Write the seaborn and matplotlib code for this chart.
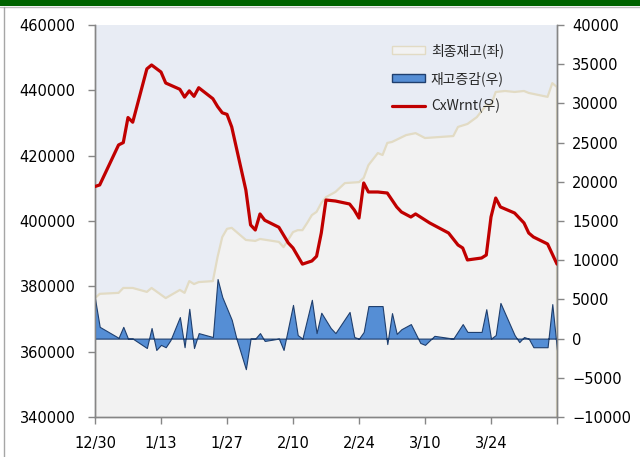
import pandas as pd
import matplotlib
matplotlib.use("Agg")
import matplotlib.pyplot as plt
from matplotlib.patches import Patch, Rectangle
from matplotlib.lines import Line2D
import seaborn as sns

# 최종재고 (left axis)
stock_dates = ["2013-12-30", "2013-12-31", "2014-01-04", "2014-01-05", "2014-01-07", "2014-01-10",
               "2014-01-11", "2014-01-14", "2014-01-17", "2014-01-18", "2014-01-19", "2014-01-20",
               "2014-01-21", "2014-01-24", "2014-01-25", "2014-01-26", "2014-01-27", "2014-01-28",
               "2014-01-31", "2014-02-02", "2014-02-03", "2014-02-07", "2014-02-08", "2014-02-10",
               "2014-02-11", "2014-02-12", "2014-02-13", "2014-02-14", "2014-02-15", "2014-02-16",
               "2014-02-17", "2014-02-19", "2014-02-21", "2014-02-24", "2014-02-25", "2014-02-26",
               "2014-02-28", "2014-03-01", "2014-03-02", "2014-03-03", "2014-03-06", "2014-03-08",
               "2014-03-10", "2014-03-16", "2014-03-17", "2014-03-19", "2014-03-21", "2014-03-23",
               "2014-03-24", "2014-03-25", "2014-03-27", "2014-03-29", "2014-03-31", "2014-04-01",
               "2014-04-05", "2014-04-06", "2014-04-07"]
stock_vals = [376400, 377700, 378000, 379500, 379500, 378300,
              379500, 376400, 378900, 378000, 381600, 380700,
              381300, 381600, 389000, 395100, 397600, 397900,
              394200, 393900, 394500, 393600, 392000, 396600,
              397200, 397200, 399400, 401800, 402800, 405500,
              407300, 408900, 411600, 411900, 413200, 417100,
              420800, 420200, 423900, 424200, 426300, 426900,
              425400, 426000, 428800, 429700, 431800, 435500,
              435500, 439500, 439800, 439500, 439800, 439200,
              438000, 442200, 441000]

# 재고증감 (right axis)
chg_dates = ["2013-12-30", "2013-12-31", "2014-01-04", "2014-01-05", "2014-01-06", "2014-01-07",
             "2014-01-10", "2014-01-11", "2014-01-12", "2014-01-13", "2014-01-14", "2014-01-15",
             "2014-01-17", "2014-01-18", "2014-01-19", "2014-01-20", "2014-01-21", "2014-01-24",
             "2014-01-25", "2014-01-26", "2014-01-28", "2014-01-29", "2014-01-31", "2014-02-01",
             "2014-02-02", "2014-02-03", "2014-02-04", "2014-02-07", "2014-02-08", "2014-02-10",
             "2014-02-11", "2014-02-12", "2014-02-14", "2014-02-15", "2014-02-16", "2014-02-18",
             "2014-02-19", "2014-02-22", "2014-02-23", "2014-02-24", "2014-02-25", "2014-02-26",
             "2014-03-01", "2014-03-02", "2014-03-03", "2014-03-04", "2014-03-05", "2014-03-07",
             "2014-03-09", "2014-03-10", "2014-03-12", "2014-03-16", "2014-03-18", "2014-03-19",
             "2014-03-22", "2014-03-23", "2014-03-24", "2014-03-25", "2014-03-26", "2014-03-29",
             "2014-03-30", "2014-03-31", "2014-04-01", "2014-04-02", "2014-04-05", "2014-04-06",
             "2014-04-07"]
chg_vals = [5100, 1500, 100, 1500, 0, 0,
            -1200, 1350, -1450, -800, -1100, -200,
            2750, -1100, 3800, -1200, 700, 200,
            7600, 5300, 2400, 0, -3900, 0,
            0, 700, -300, 0, -1450, 4300,
            450, 0, 4950, 700, 3300, 1350,
            700, 3400, 200, 0, 850, 4150,
            4150, -700, 3250, 600, 1200, 1850,
            -550, -800, 350, 0, 1850, 850,
            850, 3750, 0, 450, 4550, 450,
            -450, 200, 0, -1100, -1100, 4400,
            -1450]

# CxWrnt (right axis)
wrnt_dates = ["2013-12-30", "2013-12-31", "2014-01-04", "2014-01-05", "2014-01-06", "2014-01-07",
              "2014-01-10", "2014-01-11", "2014-01-13", "2014-01-14", "2014-01-17", "2014-01-18",
              "2014-01-19", "2014-01-20", "2014-01-21", "2014-01-24", "2014-01-25", "2014-01-26",
              "2014-01-27", "2014-01-28", "2014-01-31", "2014-02-01", "2014-02-02", "2014-02-03",
              "2014-02-04", "2014-02-07", "2014-02-09", "2014-02-10", "2014-02-12", "2014-02-14",
              "2014-02-15", "2014-02-16", "2014-02-17", "2014-02-19", "2014-02-22", "2014-02-23",
              "2014-02-24", "2014-02-25", "2014-02-26", "2014-02-28", "2014-03-02", "2014-03-04",
              "2014-03-05", "2014-03-07", "2014-03-08", "2014-03-11", "2014-03-15", "2014-03-17",
              "2014-03-18", "2014-03-19", "2014-03-22", "2014-03-23", "2014-03-24", "2014-03-25",
              "2014-03-26", "2014-03-29", "2014-03-31", "2014-04-01", "2014-04-02", "2014-04-05",
              "2014-04-07"]
wrnt_vals = [19400, 19600, 24700, 25000, 28200, 27600,
             34400, 34900, 34000, 32600, 31800, 30800,
             31600, 30900, 32000, 30600, 29600, 28800,
             28600, 27000, 18950, 14500, 13850, 15900,
             15100, 14200, 12200, 11560, 9500, 9900,
             10500, 13470, 17680, 17550, 17170, 16400,
             15380, 19850, 18700, 18700, 18570, 16790,
             16150, 15510, 15900, 14750, 13470, 11940,
             11560, 10030, 10280, 10660, 15510, 17930,
             16790, 16020, 14750, 13470, 12960, 12070,
             9500]

tick_dates = ["2013-12-30", "2014-01-13", "2014-01-27", "2014-02-10", "2014-02-24",
              "2014-03-10", "2014-03-24", "2014-04-07"]
tick_labels = ["12/30", "1/13", "1/27", "2/10", "2/24", "3/10", "3/24", ""]
series_names = ["최종재고(좌)", "재고증감(우)", "CxWrnt(우)"]

stock = pd.DataFrame({"date": pd.to_datetime(stock_dates), "value": stock_vals})
chg = pd.DataFrame({"date": pd.to_datetime(chg_dates), "value": chg_vals})
wrnt = pd.DataFrame({"date": pd.to_datetime(wrnt_dates), "value": wrnt_vals})

sns.set_theme(style="white")
plt.rcParams["font.family"] = ["DejaVu Sans"]

gray_fill = "#F2F2F2"
beige = "#E2DBC4"
blue = "#558ED5"
navy = "#1F3F6E"
red = "#C00000"
axis_gray = "#868686"

fig = plt.figure(figsize=(6.4, 4.57), dpi=100)
fig.patch.set_facecolor("white")
# green top bar and left frame line
fig.patches.append(Rectangle((0, 1 - 6 / 457), 1, 6 / 457, transform=fig.transFigure,
                             facecolor="#006400", edgecolor="none"))
fig.add_artist(Line2D([0, 1], [1 - 7 / 457, 1 - 7 / 457], transform=fig.transFigure,
                      color="#BFBFBF", lw=1))
fig.add_artist(Line2D([4 / 640, 4 / 640], [0, 1 - 7 / 457], transform=fig.transFigure,
                      color="#A6A6A6", lw=1))

ax = fig.add_axes([95 / 640, 1 - 417 / 457, (557 - 95) / 640, (417 - 25) / 457])
ax.set_facecolor("#E8ECF4")
ax.fill_between(stock["date"], stock["value"], 0, facecolor=gray_fill, edgecolor=beige,
                linewidth=1.6, zorder=2)
ax.set_ylim(340000, 460000)
ax.set_yticks(range(340000, 460001, 20000))

ax2 = ax.twinx()
ax2.fill_between(chg["date"], chg["value"], 0, facecolor=blue, edgecolor=navy,
                 linewidth=0.8, zorder=2)
sns.lineplot(data=wrnt, x="date", y="value", ax=ax2, color=red, linewidth=2.3, zorder=3)
ax2.set_ylim(-10000, 40000)
ax2.set_yticks(range(-10000, 40001, 5000))
ax2.set_ylabel("")
ax2.set_xlabel("")

ax.set_xlim(pd.Timestamp(tick_dates[0]), pd.Timestamp(tick_dates[-1]))
ax.set_xticks(pd.to_datetime(tick_dates))
ax.set_xticklabels(tick_labels)

for a in (ax, ax2):
    a.spines["top"].set_visible(False)
    for s in ("left", "right", "bottom"):
        a.spines[s].set_color(axis_gray)
        a.spines[s].set_linewidth(1)
    a.grid(False)

ax.tick_params(axis="y", which="both", direction="out", length=5, width=1, color=axis_gray,
               labelsize=10.5, pad=9, left=True, labelcolor="black")
ax.tick_params(axis="x", direction="out", length=5, width=1, color=axis_gray,
               labelsize=10.5, pad=9, bottom=True, labelcolor="black")
ax2.tick_params(axis="y", direction="out", length=5, width=1, color=axis_gray,
                labelsize=10.5, pad=6, right=True, labelcolor="black")

handles = [Patch(facecolor=gray_fill, edgecolor=beige, linewidth=1),
           Patch(facecolor=blue, edgecolor=navy, linewidth=1),
           Line2D([], [], color=red, linewidth=2.3)]
leg = ax2.legend(handles, series_names, loc="upper left", bbox_to_anchor=(392 / 640, 1 - 43 / 457),
                 bbox_transform=fig.transFigure, frameon=False, borderpad=0, borderaxespad=0,
                 handlelength=2.4, handleheight=0.6, handletextpad=0.4, labelspacing=0.95,
                 prop={"family": ["Noto Sans CJK KR", "DejaVu Sans"], "size": 10})

fig.savefig("out.png", dpi=100)
